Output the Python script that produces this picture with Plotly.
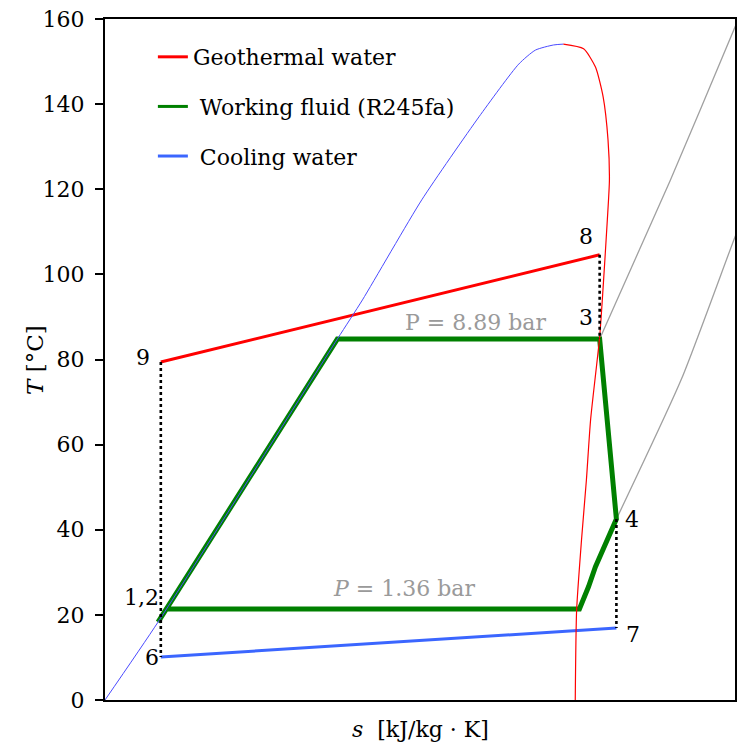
import plotly.graph_objects as go

# ---- data (s in kJ/kg·K, T in °C) ----
liq_s = [1.000, 1.076, 1.333, 1.369, 1.454, 1.536, 1.593, 1.617, 1.643, 1.657]
liq_T = [0.0, 18.3, 84.8, 94.0, 117.5, 137.0, 149.4, 152.7, 153.9, 154.1]

vap_s = [1.657, 1.686, 1.703, 1.714, 1.721, 1.723, 1.720, 1.714, 1.709, 1.696, 1.690, 1.683, 1.676, 1.674]
vap_T = [154.1, 153.0, 148.7, 141.7, 131.6, 122.2, 112.8, 97.0, 85.3, 65.8, 51.7, 37.6, 21.1, -0.9]

geo_s = [1.080, 1.709]
geo_T = [79.4, 104.6]

cool_s = [1.080, 1.733]
cool_T = [10.1, 16.9]

wf_s = [1.076, 1.333, 1.709, 1.733, 1.703, 1.693, 1.680, 1.087]
wf_T = [18.3, 84.8, 84.8, 42.5, 31.3, 26.6, 21.4, 21.4]

iso_hi_s = [1.709, 1.810, 1.903, 1.910]
iso_hi_T = [84.8, 122.0, 158.1, 160.8]
iso_lo_s = [1.733, 1.827, 1.903, 1.910]
iso_lo_T = [42.5, 75.7, 108.8, 111.5]

dot_lines = [([1.080, 1.080], [79.4, 10.1]),
             ([1.709, 1.709], [104.6, 84.8]),
             ([1.733, 1.733], [42.5, 16.9])]

point_labels = ["8", "3", "9", "1,2", "6", "4", "7"]
point_s = [1.690, 1.690, 1.054, 1.053, 1.067, 1.755, 1.757]
point_T = [109.0, 89.8, 80.4, 24.2, 10.1, 42.5, 15.3]

p_texts = ["P = 8.89 bar", "<i>P</i> = 1.36 bar"]
p_s = [1.531, 1.429]
p_T = [88.8, 26.3]

legend_names = ["Geothermal water", "\u00a0Working fluid (R245fa)", "\u00a0Cooling water"]
legend_colors = ["#ff0000", "#008000", "#3b66ff"]

y_ticks = [0, 20, 40, 60, 80, 100, 120, 140, 160]

FONT = "DejaVu Serif"

fig = go.Figure()

for s, T in [(iso_hi_s, iso_hi_T), (iso_lo_s, iso_lo_T)]:
    fig.add_trace(go.Scatter(x=s, y=T, mode="lines", showlegend=False,
                             line=dict(color="#a0a0a0", width=1.3, shape="spline", smoothing=0.6),
                             hoverinfo="skip"))

fig.add_trace(go.Scatter(x=wf_s, y=wf_T, mode="lines", showlegend=False,
                         line=dict(color="#008000", width=5)))
fig.add_trace(go.Scatter(x=geo_s, y=geo_T, mode="lines", showlegend=False,
                         line=dict(color="#ff0000", width=3)))
fig.add_trace(go.Scatter(x=cool_s, y=cool_T, mode="lines", showlegend=False,
                         line=dict(color="#3b66ff", width=3)))

fig.add_trace(go.Scatter(x=liq_s, y=liq_T, mode="lines", showlegend=False,
                         line=dict(color="#4a4aff", width=1, shape="spline", smoothing=0.6)))
fig.add_trace(go.Scatter(x=vap_s, y=vap_T, mode="lines", showlegend=False,
                         line=dict(color="#ff0000", width=1.2, shape="spline", smoothing=0.6)))

for s, T in dot_lines:
    fig.add_trace(go.Scatter(x=s, y=T, mode="lines", showlegend=False,
                             line=dict(color="black", width=2.6, dash="3px,3px")))

for i, (n, c) in enumerate(zip(legend_names, legend_colors)):
    fig.add_trace(go.Scatter(x=[None], y=[None], mode="lines", name=n,
                             legendgroup=str(i), line=dict(color=c, width=3)))

for t, s, T in zip(point_labels, point_s, point_T):
    fig.add_annotation(x=s, y=T, text=t, showarrow=False, xref="x", yref="y",
                       font=dict(family=FONT, size=22, color="black"))
for t, s, T in zip(p_texts, p_s, p_T):
    fig.add_annotation(x=s, y=T, text=t, showarrow=False, xref="x", yref="y",
                       font=dict(family=FONT, size=22, color="#9a9a9a"))

fig.add_annotation(x=-0.112, y=0.5, xref="paper", yref="paper", text="<i>T</i> [°C]",
                   textangle=-90, showarrow=False, xanchor="center", yanchor="middle",
                   font=dict(family=FONT, size=23, color="black"))
fig.add_annotation(x=0.5, y=-0.043, xref="paper", yref="paper",
                   text="<i>s</i>  [kJ/kg · K]", showarrow=False,
                   xanchor="center", yanchor="middle",
                   font=dict(family=FONT, size=22, color="black"))

fig.update_layout(
    width=740, height=744,
    margin=dict(l=105, r=3, t=19, b=44),
    paper_bgcolor="white", plot_bgcolor="white",
    font=dict(family=FONT, size=22, color="black"),
    legend=dict(x=0.076, y=0.975, xanchor="left", yanchor="top",
                bgcolor="rgba(0,0,0,0)", font=dict(family=FONT, size=22),
                tracegroupgap=18, traceorder="grouped"),
    xaxis=dict(range=[1.0, 1.903], showticklabels=False, ticks="", showgrid=False,
               zeroline=False, showline=True, linecolor="black", linewidth=2, mirror=True),
    yaxis=dict(range=[0, 160], tickvals=y_ticks, ticks="outside", ticklen=8,
               tickwidth=1.5, tickcolor="black", showgrid=False, zeroline=False,
               showline=True, linecolor="black", linewidth=2, mirror=True,
               tickfont=dict(family=FONT, size=22), ticklabelstandoff=6),
)

fig.write_html("out.html")
